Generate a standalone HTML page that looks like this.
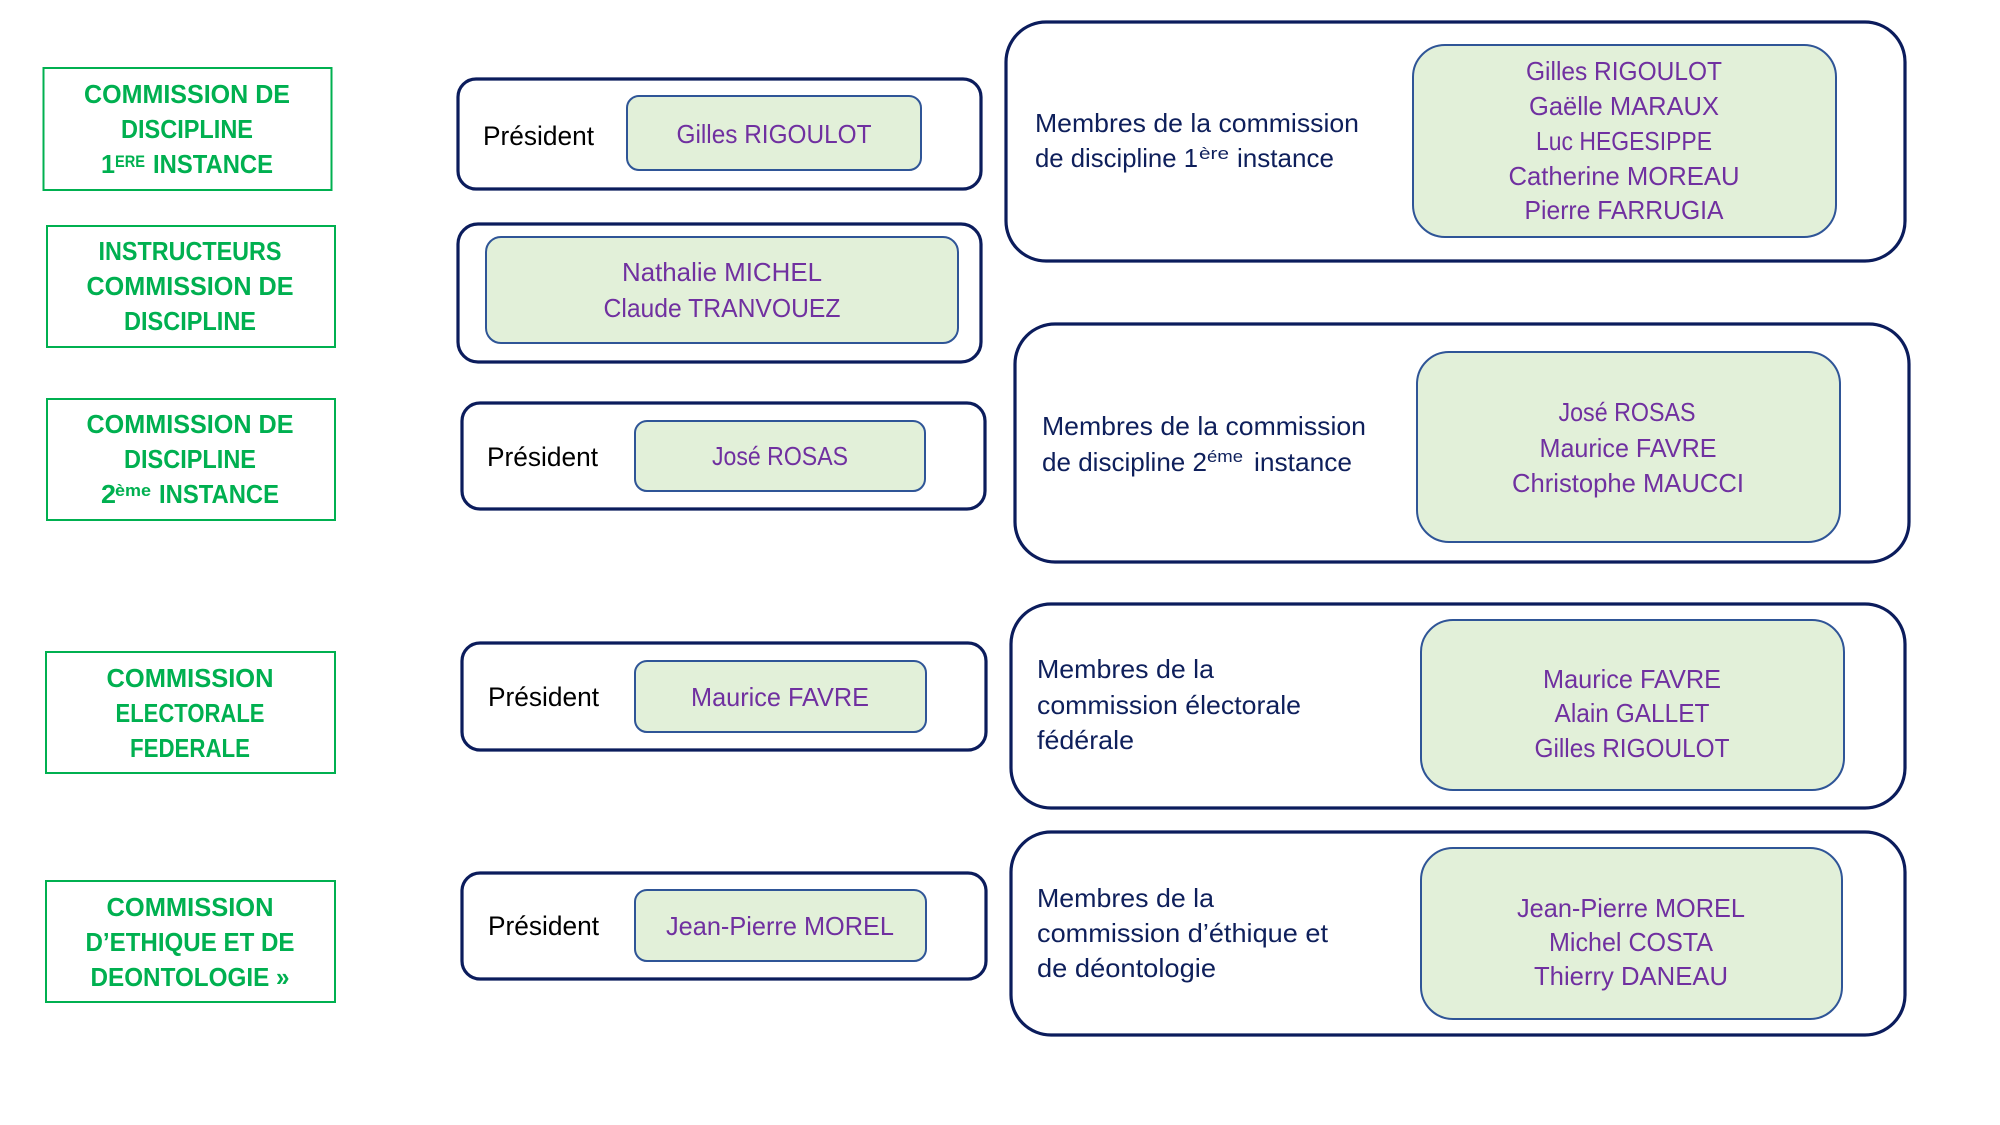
<!DOCTYPE html>
<html>
<head>
<meta charset="utf-8">
<style>
  html,body{margin:0;padding:0;background:#ffffff;}
  svg{display:block;}
  text{font-family:"Liberation Sans",sans-serif;}
  .g{fill:#00B050;font-weight:bold;font-size:26px;}
  .gs{fill:#00B050;font-weight:bold;font-size:17px;}
  .p{fill:#000000;font-size:27px;}
  .n{fill:#7030A0;font-size:26px;}
  .m{fill:#0e1f5b;font-size:26px;}
  .ms{fill:#0e1f5b;font-size:17px;}
  .gb{fill:#ffffff;stroke:#00B050;stroke-width:2;}
  .ob{fill:#ffffff;stroke:#0b1c5c;stroke-width:3.2;}
  .ib{fill:#E2F0D9;stroke:#2F5597;stroke-width:2;}
</style>
</head>
<body>
<svg width="2000" height="1125" viewBox="0 0 2000 1125" xmlns="http://www.w3.org/2000/svg">
  <rect x="0" y="0" width="2000" height="1125" fill="#ffffff"/>

  <!-- Green title boxes -->
  <rect class="gb" x="43.5" y="68" width="288" height="122"/>
  <rect class="gb" x="47" y="226" width="288" height="121"/>
  <rect class="gb" x="47" y="399" width="288" height="121"/>
  <rect class="gb" x="46" y="652" width="289" height="121"/>
  <rect class="gb" x="46" y="881" width="289" height="121"/>

  <!-- Box 1 text -->
  <text class="g" x="187" y="103" text-anchor="middle" textLength="206" lengthAdjust="spacingAndGlyphs">COMMISSION DE</text>
  <text class="g" x="187" y="138" text-anchor="middle" textLength="132" lengthAdjust="spacingAndGlyphs">DISCIPLINE</text>
  <text class="g" x="101" y="173" textLength="14" lengthAdjust="spacingAndGlyphs">1</text>
  <text class="gs" x="115" y="167" textLength="30" lengthAdjust="spacingAndGlyphs">ERE</text>
  <text class="g" x="153" y="173" textLength="120" lengthAdjust="spacingAndGlyphs">INSTANCE</text>

  <!-- Box 2 text -->
  <text class="g" x="190" y="260" text-anchor="middle" textLength="183" lengthAdjust="spacingAndGlyphs">INSTRUCTEURS</text>
  <text class="g" x="190" y="295" text-anchor="middle" textLength="207" lengthAdjust="spacingAndGlyphs">COMMISSION DE</text>
  <text class="g" x="190" y="330" text-anchor="middle" textLength="132" lengthAdjust="spacingAndGlyphs">DISCIPLINE</text>

  <!-- Box 3 text -->
  <text class="g" x="190" y="433" text-anchor="middle" textLength="207" lengthAdjust="spacingAndGlyphs">COMMISSION DE</text>
  <text class="g" x="190" y="468" text-anchor="middle" textLength="132" lengthAdjust="spacingAndGlyphs">DISCIPLINE</text>
  <text class="g" x="101" y="503" textLength="15" lengthAdjust="spacingAndGlyphs">2</text>
  <text class="gs" x="115" y="496" textLength="36" lengthAdjust="spacingAndGlyphs">ème</text>
  <text class="g" x="159" y="503" textLength="120" lengthAdjust="spacingAndGlyphs">INSTANCE</text>

  <!-- Box 4 text -->
  <text class="g" x="190" y="687" text-anchor="middle" textLength="167" lengthAdjust="spacingAndGlyphs">COMMISSION</text>
  <text class="g" x="190" y="722" text-anchor="middle" textLength="149" lengthAdjust="spacingAndGlyphs">ELECTORALE</text>
  <text class="g" x="190" y="757" text-anchor="middle" textLength="120" lengthAdjust="spacingAndGlyphs">FEDERALE</text>

  <!-- Box 5 text -->
  <text class="g" x="190" y="916" text-anchor="middle" textLength="167" lengthAdjust="spacingAndGlyphs">COMMISSION</text>
  <text class="g" x="190" y="951" text-anchor="middle" textLength="209" lengthAdjust="spacingAndGlyphs">D’ETHIQUE ET DE</text>
  <text class="g" x="190" y="986" text-anchor="middle" textLength="199" lengthAdjust="spacingAndGlyphs">DEONTOLOGIE »</text>

  <!-- President boxes -->
  <rect class="ob" x="458" y="79" width="523" height="110" rx="18" ry="18"/>
  <rect class="ib" x="627" y="96" width="294" height="74" rx="12" ry="12"/>
  <text class="p" x="483" y="145" textLength="111" lengthAdjust="spacingAndGlyphs">Président</text>
  <text class="n" x="774" y="143" text-anchor="middle" textLength="195" lengthAdjust="spacingAndGlyphs">Gilles RIGOULOT</text>

  <rect class="ob" x="458" y="224" width="523" height="138" rx="20" ry="20"/>
  <rect class="ib" x="486" y="237" width="472" height="106" rx="15" ry="15"/>
  <text class="n" x="722" y="281" text-anchor="middle" textLength="200" lengthAdjust="spacingAndGlyphs">Nathalie MICHEL</text>
  <text class="n" x="722" y="317" text-anchor="middle" textLength="237" lengthAdjust="spacingAndGlyphs">Claude TRANVOUEZ</text>

  <rect class="ob" x="462" y="403" width="523" height="106" rx="18" ry="18"/>
  <rect class="ib" x="635" y="421" width="290" height="70" rx="12" ry="12"/>
  <text class="p" x="487" y="466" textLength="111" lengthAdjust="spacingAndGlyphs">Président</text>
  <text class="n" x="780" y="465" text-anchor="middle" textLength="136" lengthAdjust="spacingAndGlyphs">José ROSAS</text>

  <rect class="ob" x="462" y="643" width="524" height="107" rx="18" ry="18"/>
  <rect class="ib" x="635" y="661" width="291" height="71" rx="12" ry="12"/>
  <text class="p" x="488" y="706" textLength="111" lengthAdjust="spacingAndGlyphs">Président</text>
  <text class="n" x="780" y="706" text-anchor="middle" textLength="178" lengthAdjust="spacingAndGlyphs">Maurice FAVRE</text>

  <rect class="ob" x="462" y="873" width="524" height="106" rx="18" ry="18"/>
  <rect class="ib" x="635" y="890" width="291" height="71" rx="12" ry="12"/>
  <text class="p" x="488" y="935" textLength="111" lengthAdjust="spacingAndGlyphs">Président</text>
  <text class="n" x="780" y="935" text-anchor="middle" textLength="228" lengthAdjust="spacingAndGlyphs">Jean-Pierre MOREL</text>

  <!-- Right box A -->
  <rect class="ob" x="1006" y="22" width="899" height="239" rx="40" ry="40"/>
  <rect class="ib" x="1413" y="45" width="423" height="192" rx="32" ry="32"/>
  <text class="m" x="1035" y="132" textLength="324" lengthAdjust="spacingAndGlyphs">Membres de la commission</text>
  <text class="m" x="1035" y="167" textLength="163" lengthAdjust="spacingAndGlyphs">de discipline 1</text>
  <text class="ms" x="1199" y="159" textLength="30" lengthAdjust="spacingAndGlyphs">ère</text>
  <text class="m" x="1237" y="167" textLength="97" lengthAdjust="spacingAndGlyphs">instance</text>
  <text class="n" x="1624" y="80" text-anchor="middle" textLength="196" lengthAdjust="spacingAndGlyphs">Gilles RIGOULOT</text>
  <text class="n" x="1624" y="115" text-anchor="middle" textLength="190" lengthAdjust="spacingAndGlyphs">Gaëlle MARAUX</text>
  <text class="n" x="1624" y="150" text-anchor="middle" textLength="176" lengthAdjust="spacingAndGlyphs">Luc HEGESIPPE</text>
  <text class="n" x="1624" y="185" text-anchor="middle" textLength="231" lengthAdjust="spacingAndGlyphs">Catherine MOREAU</text>
  <text class="n" x="1624" y="219" text-anchor="middle" textLength="199" lengthAdjust="spacingAndGlyphs">Pierre FARRUGIA</text>

  <!-- Right box B -->
  <rect class="ob" x="1015" y="324" width="894" height="238" rx="40" ry="40"/>
  <rect class="ib" x="1417" y="352" width="423" height="190" rx="32" ry="32"/>
  <text class="m" x="1042" y="435" textLength="324" lengthAdjust="spacingAndGlyphs">Membres de la commission</text>
  <text class="m" x="1042" y="471" textLength="165" lengthAdjust="spacingAndGlyphs">de discipline 2</text>
  <text class="ms" x="1207" y="462" textLength="36" lengthAdjust="spacingAndGlyphs">éme</text>
  <text class="m" x="1254" y="471" textLength="98" lengthAdjust="spacingAndGlyphs">instance</text>
  <text class="n" x="1627" y="421" text-anchor="middle" textLength="137" lengthAdjust="spacingAndGlyphs">José ROSAS</text>
  <text class="n" x="1628" y="457" text-anchor="middle" textLength="177" lengthAdjust="spacingAndGlyphs">Maurice FAVRE</text>
  <text class="n" x="1628" y="492" text-anchor="middle" textLength="232" lengthAdjust="spacingAndGlyphs">Christophe MAUCCI</text>

  <!-- Right box C -->
  <rect class="ob" x="1011" y="604" width="894" height="204" rx="40" ry="40"/>
  <rect class="ib" x="1421" y="620" width="423" height="170" rx="32" ry="32"/>
  <text class="m" x="1037" y="678" textLength="177" lengthAdjust="spacingAndGlyphs">Membres de la</text>
  <text class="m" x="1037" y="714" textLength="264" lengthAdjust="spacingAndGlyphs">commission électorale</text>
  <text class="m" x="1037" y="749" textLength="97" lengthAdjust="spacingAndGlyphs">fédérale</text>
  <text class="n" x="1632" y="688" text-anchor="middle" textLength="178" lengthAdjust="spacingAndGlyphs">Maurice FAVRE</text>
  <text class="n" x="1632" y="722" text-anchor="middle" textLength="155" lengthAdjust="spacingAndGlyphs">Alain GALLET</text>
  <text class="n" x="1632" y="757" text-anchor="middle" textLength="195" lengthAdjust="spacingAndGlyphs">Gilles RIGOULOT</text>

  <!-- Right box D -->
  <rect class="ob" x="1011" y="832" width="894" height="203" rx="40" ry="40"/>
  <rect class="ib" x="1421" y="848" width="421" height="171" rx="32" ry="32"/>
  <text class="m" x="1037" y="907" textLength="177" lengthAdjust="spacingAndGlyphs">Membres de la</text>
  <text class="m" x="1037" y="942" textLength="291" lengthAdjust="spacingAndGlyphs">commission d’éthique et</text>
  <text class="m" x="1037" y="977" textLength="179" lengthAdjust="spacingAndGlyphs">de déontologie</text>
  <text class="n" x="1631" y="917" text-anchor="middle" textLength="228" lengthAdjust="spacingAndGlyphs">Jean-Pierre MOREL</text>
  <text class="n" x="1631" y="951" text-anchor="middle" textLength="164" lengthAdjust="spacingAndGlyphs">Michel COSTA</text>
  <text class="n" x="1631" y="985" text-anchor="middle" textLength="194" lengthAdjust="spacingAndGlyphs">Thierry DANEAU</text>
</svg>
</body>
</html>
